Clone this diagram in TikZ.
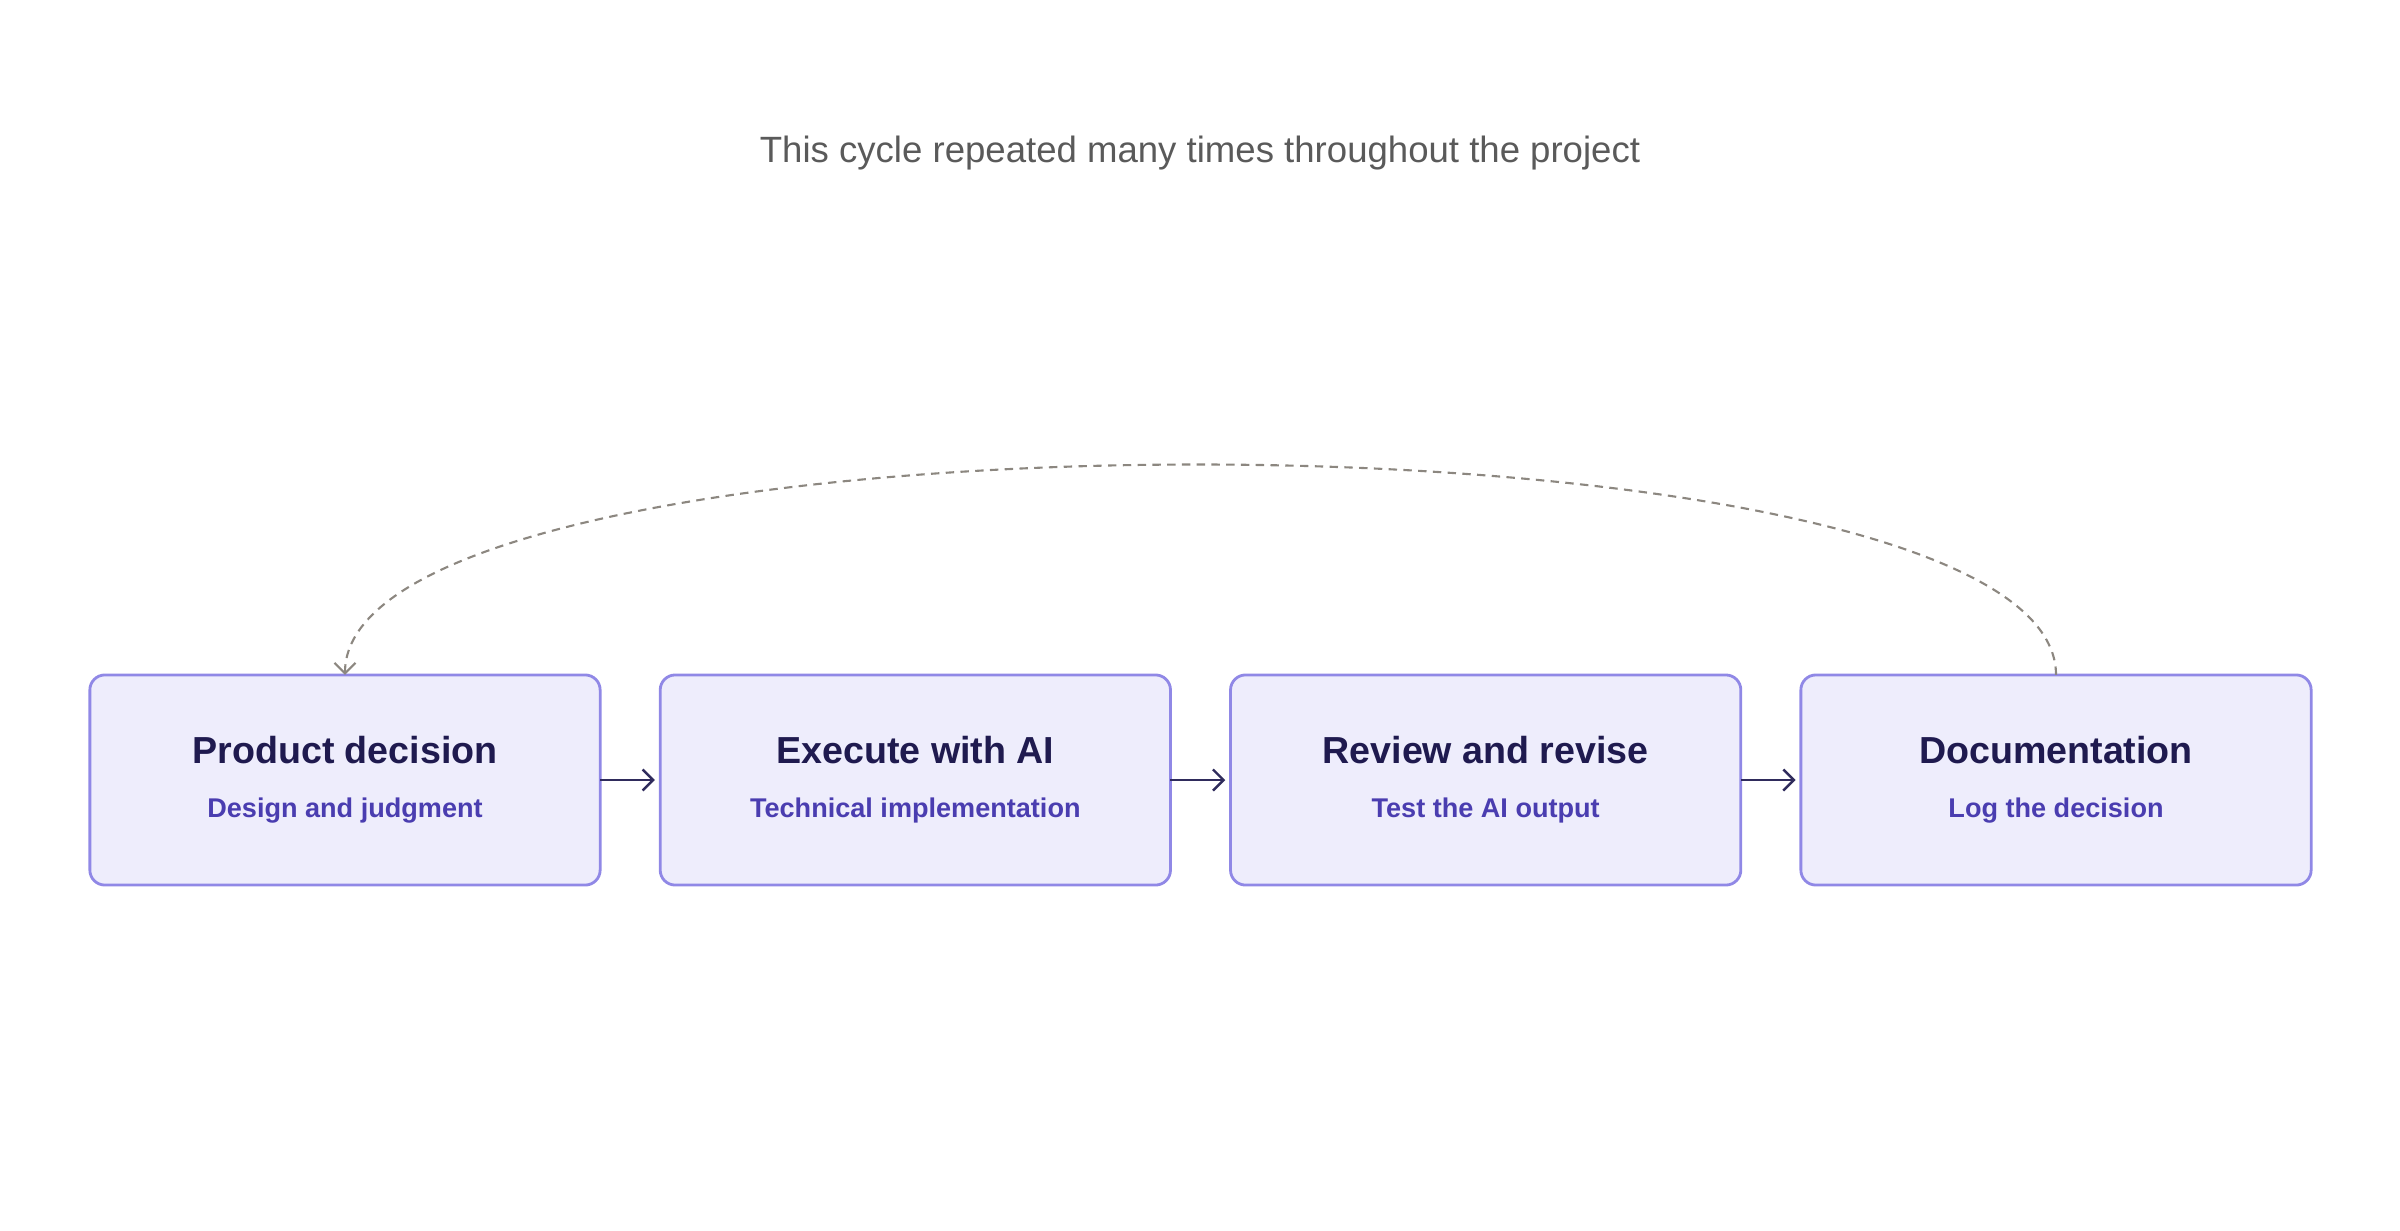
\documentclass[tikz,border=0pt]{standalone}
\usepackage{fontspec}
\setmainfont{Liberation Sans}
\usetikzlibrary{positioning,arrows.meta}

\definecolor{boxfill}{HTML}{EEEDFC}
\definecolor{boxline}{HTML}{9088E6}
\definecolor{headink}{HTML}{1F1A4F}
\definecolor{subink}{HTML}{4A3DB0}
\definecolor{arrowink}{HTML}{2F2B5C}
\definecolor{loopink}{HTML}{8C8780}
\definecolor{noteink}{HTML}{5A5A5A}

\newcommand{\stagehead}{\fontsize{10.7pt}{12pt}\selectfont\bfseries\color{headink}}
\newcommand{\stagesub}{\fontsize{7.7pt}{9pt}\selectfont\bfseries\color{subink}}

\begin{document}
\begin{tikzpicture}[x=0.01cm,y=-0.01cm,>={Straight Barb[length=3pt,width=6pt]},node distance=0.6cm]
  \tikzset{stage/.style={rectangle,rounded corners=0.15cm,draw=boxline,fill=boxfill,line width=0.8pt,
      minimum width=5.1cm,minimum height=2.1cm,align=center,inner sep=0pt,outer sep=0pt},
    flow/.style={->,draw=arrowink,line width=0.7pt,shorten >=1.5pt},
    loopback/.style={->,draw=loopink,line width=0.6pt,dash pattern=on 2.4pt off 1.8pt}}
  \useasboundingbox (0,0) rectangle (2400,1230);

  \node [text=noteink,font=\fontsize{10.4pt}{12pt}\selectfont] (note) at (1200,153) {This cycle repeated many times throughout the project};

  \node [stage] (decision) at (345,780) {{\stagehead Product decision}\\[0.12cm]{\stagesub Design and judgment}};
  \node [stage] (execute) [right=of decision] {{\stagehead Execute with AI}\\[0.12cm]{\stagesub Technical implementation}};
  \node [stage] (review) [right=of execute] {{\stagehead Review and revise}\\[0.12cm]{\stagesub Test the AI output}};
  \node [stage] (docs) [right=of review] {{\stagehead Documentation}\\[0.12cm]{\stagesub Log the decision}};

  \draw [flow] (decision) -- (execute);
  \draw [flow] (execute) -- (review);
  \draw [flow] (review) -- (docs);

  \draw [loopback] (docs.north) .. controls ([yshift=2.8cm]docs.north) and ([yshift=2.8cm]decision.north) .. (decision.north);
\end{tikzpicture}
\end{document}
